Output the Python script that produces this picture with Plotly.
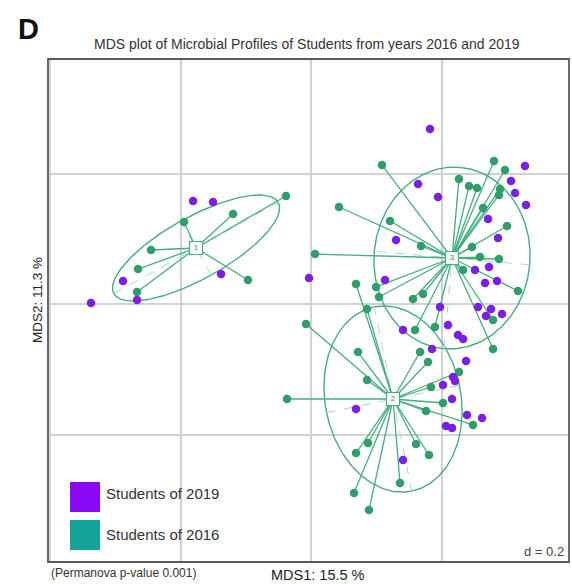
import numpy as np
import plotly.graph_objects as go

# ---------------- data (MDS scores) ----------------
# Students of 2016 (green points, connected to their cluster centroid)
s2016_mds1 = [-0.0383, -0.1195, -0.1946, -0.2452, -0.2651, -0.2667, -0.0966,
              0.2805, 0.2973, 0.1088, 0.2268, 0.2421, 0.2544, 0.2897, 0.2881, 0.2636,
              0.0429, 0.1211, 0.3004, 0.1686, 0.2467, 0.0061, 0.2590, 0.2881, 0.2330,
              0.3172, 0.0996, 0.1042, 0.1563, 0.1717, 0.1594, 0.1900, 0.2789, 0.2789,
              -0.0077, 0.0720, 0.0858, -0.0368, 0.0874, 0.0690, 0.0659, 0.0889, 0.1364,
              0.1609, 0.1808, 0.1762, 0.2023, 0.1839, 0.2483, 0.1793, 0.1671, 0.2268,
              0.0858, 0.0690]
s2016_mds2 = [0.1655, 0.1379, 0.1257, 0.0828, 0.0536, 0.0184, 0.0368,
              0.2192, 0.2054, 0.2130, 0.1916, 0.1808, 0.1778, 0.1762, 0.1671, 0.1471,
              0.1487, 0.1272, 0.1195, 0.0889, 0.0874, 0.0766, 0.0720, 0.0690, 0.0521,
              0.0199, 0.0261, 0.0107, 0.0077, 0.0153, -0.0398, -0.0352, -0.0245, -0.0690,
              -0.0307, -0.0736, -0.1165, -0.1456, -0.2130, -0.2284, -0.2897, -0.3157, -0.2743,
              -0.2146, -0.2314, -0.1640, -0.1517, -0.1272, -0.1854, -0.0889, -0.0736, -0.1042,
              -0.0077, 0.0307]
s2016_cluster = [1] * 7 + [3] * 27 + [2] * 20

# Students of 2019 (purple points)
s2019_mds1 = [-0.1808, -0.1502, -0.2881, -0.2667, -0.3372, -0.1379,
              0.1824, 0.1640, 0.1946, 0.1303, -0.0031, 0.1134, 0.3280, 0.3065, 0.3127,
              0.3295, 0.2713, 0.2866, 0.2728, 0.2513, 0.2667, 0.2851, 0.2559, 0.2759,
              0.2682, 0.2927, 0.1977,
              0.1410, 0.2100, 0.2253, 0.2330, 0.1854, 0.2376, 0.2176, 0.2207, 0.2023,
              0.2161, 0.2391, 0.2621, 0.2069, 0.2161, 0.0690, 0.1410]
s2019_mds2 = [0.1579, 0.1563, 0.0352, 0.0061, 0.0015, 0.0460,
              0.2682, 0.1839, 0.1640, 0.0981, 0.0398, 0.0368, 0.2115, 0.1885, 0.1701,
              0.1517, 0.1303, 0.1012, 0.0567, 0.0521, 0.0322, 0.0352, -0.0046, -0.0077,
              -0.0184, -0.0153, -0.0046,
              -0.0398, -0.0322, -0.0475, -0.0536, -0.0690, -0.0874, -0.1119, -0.1180, -0.1241,
              -0.1456, -0.1701, -0.1747, -0.1870, -0.1900, -0.1609, -0.2391]

# Cluster centroids and 1.5-sd ellipses
cluster_labels = ["1", "2", "3"]
centroid_mds1 = [-0.1762, 0.1257, 0.2161]
centroid_mds2 = [0.0858, -0.1456, 0.0705]
ellipse_semi_major = [0.144, 0.144, 0.1395]
ellipse_semi_minor = [0.0475, 0.104, 0.1195]
ellipse_angle_deg = [29.0, -78.5, 85.0]

legend_names = ["Students of 2019", "Students of 2016"]

# ---------------- styles ----------------
PURPLE = "#7B1FE6"
PURPLE_LEG = "#8A08F6"
GREEN_PT = "#2F9E6B"
GREEN_LN = "#45AE80"
TEAL_LEG = "#14A39A"

fig = go.Figure()

# ellipses and their axes
t = np.linspace(0, 2 * np.pi, 240)
for k in range(len(cluster_labels)):
    cx, cy = centroid_mds1[k], centroid_mds2[k]
    a, b = ellipse_semi_major[k], ellipse_semi_minor[k]
    phi = np.deg2rad(ellipse_angle_deg[k])
    ex = cx + a * np.cos(t) * np.cos(phi) - b * np.sin(t) * np.sin(phi)
    ey = cy + a * np.cos(t) * np.sin(phi) + b * np.sin(t) * np.cos(phi)
    fig.add_trace(go.Scatter(x=ex, y=ey, mode="lines",
                             line=dict(color=GREEN_LN, width=1.4),
                             hoverinfo="skip"))
    ax = [cx - a * np.cos(phi), cx + a * np.cos(phi), None,
          cx - b * np.sin(-phi), cx + b * np.sin(-phi)]
    ay = [cy - a * np.sin(phi), cy + a * np.sin(phi), None,
          cy - b * np.cos(phi), cy + b * np.cos(phi)]
    fig.add_trace(go.Scatter(x=ax, y=ay, mode="lines",
                             line=dict(color="#a8d8c2", width=1, dash="dash"),
                             hoverinfo="skip"))

# star segments from centroid to each 2016 student
sx, sy = [], []
for x, y, c in zip(s2016_mds1, s2016_mds2, s2016_cluster):
    sx += [centroid_mds1[c - 1], x, None]
    sy += [centroid_mds2[c - 1], y, None]
fig.add_trace(go.Scatter(x=sx, y=sy, mode="lines",
                         line=dict(color=GREEN_LN, width=1.3), hoverinfo="skip"))

fig.add_trace(go.Scatter(x=s2016_mds1, y=s2016_mds2, mode="markers",
                         marker=dict(color=GREEN_PT, size=8.5), name=legend_names[1]))
fig.add_trace(go.Scatter(x=s2019_mds1, y=s2019_mds2, mode="markers",
                         marker=dict(color=PURPLE, size=8.5), name=legend_names[0]))

# centroid label boxes
fig.add_trace(go.Scatter(x=centroid_mds1, y=centroid_mds2, mode="markers+text",
                         text=cluster_labels, textposition="middle center",
                         textfont=dict(size=8, color="#3b8f68", family="Liberation Sans"),
                         marker=dict(symbol="square", size=13, color="white",
                                     line=dict(color=GREEN_LN, width=1.2)),
                         hoverinfo="skip"))

L, T, R, B = 48, 59, 3, 22
W, H = 572, 584
pw, ph = W - L - R, H - T - B


def px(xp):
    return (xp - L) / pw


def py(yp):
    return (H - B - yp) / ph


shapes = [
    dict(type="rect", xref="paper", yref="paper", x0=0, y0=0, x1=1, y1=1,
         line=dict(color="#5a5a5a", width=1.8), layer="above"),
    dict(type="rect", xref="paper", yref="paper", x0=px(70), x1=px(100),
         y0=py(512), y1=py(482), fillcolor=PURPLE_LEG, line=dict(width=0)),
    dict(type="rect", xref="paper", yref="paper", x0=px(70), x1=px(100),
         y0=py(550), y1=py(520), fillcolor=TEAL_LEG, line=dict(width=0)),
]

FONT = "Liberation Sans, Arial, sans-serif"
ann = [
    dict(text="<b>D</b>", x=px(28), y=py(29), font=dict(size=29, color="#111")),
    dict(text="MDS plot of Microbial Profiles of Students from years 2016 and 2019",
         x=px(307), y=py(44), font=dict(size=14, color="#333")),
    dict(text="MDS2: 11.3 %", x=px(37), y=py(300), textangle=-90,
         font=dict(size=13.5, color="#222")),
    dict(text="MDS1: 15.5 %", x=px(318), y=py(575), font=dict(size=14.5, color="#222")),
    dict(text="(Permanova p-value 0.001)", x=px(49), y=py(573), xanchor="left",
         font=dict(size=12, color="#333")),
    dict(text="d = 0.2", x=px(566), y=py(551), xanchor="right",
         font=dict(size=13, color="#444")),
    dict(text=legend_names[0], x=px(104), y=py(493), xanchor="left",
         font=dict(size=15, color="#333")),
    dict(text=legend_names[1], x=px(104), y=py(534), xanchor="left",
         font=dict(size=15, color="#333")),
]
for a_ in ann:
    a_.setdefault("xanchor", "center")
    a_.update(xref="paper", yref="paper", yanchor="middle", showarrow=False)
    a_["font"]["family"] = FONT

fig.update_layout(
    width=W, height=H, autosize=False,
    margin=dict(l=L, r=R, t=T, b=B, pad=0),
    paper_bgcolor="white", plot_bgcolor="white",
    showlegend=False, shapes=shapes, annotations=ann,
    xaxis=dict(range=[-0.4031, 0.3954], tick0=0, dtick=0.2, showticklabels=False,
               ticks="", showgrid=True, gridcolor="#d2d2d2", gridwidth=1.5,
               zeroline=False, fixedrange=True),
    yaxis=dict(range=[-0.3954, 0.3755], tick0=0, dtick=0.2, showticklabels=False,
               ticks="", showgrid=True, gridcolor="#d2d2d2", gridwidth=1.5,
               zeroline=False, fixedrange=True),
)

fig.write_html("out.html", config={"displayModeBar": False},
               post_script="document.body.style.margin='0';document.body.style.overflow='hidden';")
